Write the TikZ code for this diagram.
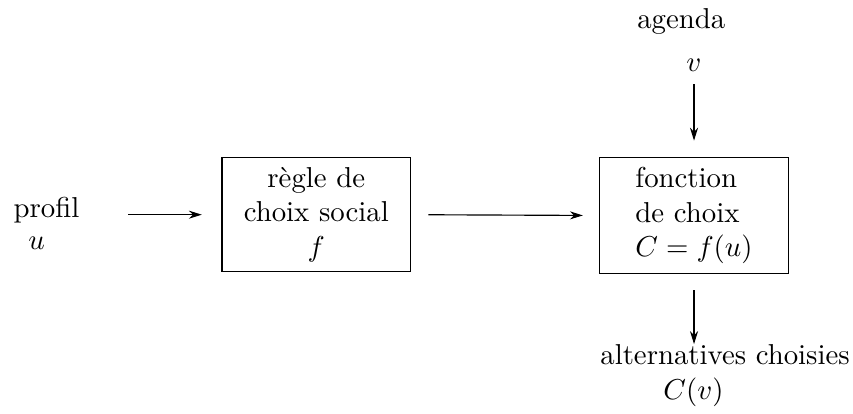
\documentclass[tikz,border=0pt]{standalone}
\usepackage{tikz}
\usetikzlibrary{positioning,arrows.meta}

\begin{document}
\begin{tikzpicture} [shorten >=1pt,>={Stealth[length=4.5pt,width=2.8pt]},
                     box/.style={draw,rectangle,minimum width=2.3cm,minimum height=1.37cm},
                     lbl/.style={inner sep=0pt,anchor=base west}]
                    \useasboundingbox (0,0) rectangle (10.41,5.05);
                    % Nodes
                    \node[lbl] (profil) at (0.16,2.40) {profil};
                    \node[lbl] (u) at (0.34,2.00) {$u$};
                    \node[box,align=center] (regle) at (3.86,2.43) {r\`egle de\\choix social\\$f$};
                    \node[box,align=left] (choix) at (8.47,2.42) {fonction\\de choix\\$C=f(u)$};
                    \node[lbl] (agenda) at (7.77,4.70) {agenda};
                    \node[lbl] (v) at (8.37,4.18) {$v$};
                    \node[lbl] (alt) at (7.32,0.60) {alternatives choisies};
                    \node[lbl] (Cv) at (8.09,0.17) {$C(v)$};

                    % Arrows
                    \draw[black,->,shorten <=0.59cm,shorten >=0.24cm] (profil.east |- regle.west) -- (regle.west);
                    \draw[black,->,shorten <=0.21cm,shorten >=0.2cm] (regle.east) -- (choix.west);
                    \draw[black,->,shorten <=0.15cm,shorten >=0.2cm] (v.south -| choix.north) -- (choix.north);
                    \draw[black,->,shorten <=0.2cm,shorten >=0pt] (choix.south) -- (alt.north -| choix.south);
                \end{tikzpicture}
\end{document}
